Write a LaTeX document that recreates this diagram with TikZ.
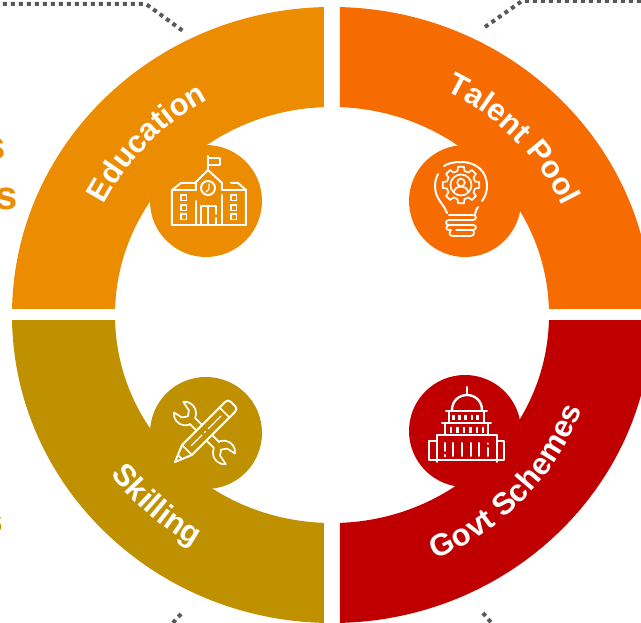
\documentclass[tikz,border=0pt]{standalone}
\usepackage{fontspec}
\setmainfont{Liberation Sans}
\usetikzlibrary{decorations.text}
\definecolor{eduC}{HTML}{EC8C00}
\definecolor{talC}{HTML}{F76C00}
\definecolor{skiC}{HTML}{BF9000}
\definecolor{govC}{HTML}{C00000}
\definecolor{dotC}{HTML}{595959}
\newcommand{\lblfont}{\fontsize{31}{37}\selectfont\bfseries}
\tikzset{
  px/.style={shift={(-332,315)},yscale=-1},
  badge/.style={circle,minimum size=112pt,inner sep=0pt,draw=none},
  dotline/.style={draw=dotC,line width=4pt,dash pattern=on 4pt off 4pt},
  icon/.style={draw=white,line width=2pt,line cap=round,line join=round},
  thinicon/.style={draw=white,line width=1.7pt,line cap=round,line join=round},
  stray/.style={font=\bfseries,inner sep=0pt,anchor=base east},
  ringlabel/.style={decorate,decoration={text along path,text align=center,text color=white,text={|\lblfont|#1}}}
}
\begin{document}
\begin{tikzpicture}[x=1pt,y=1pt]
\useasboundingbox (-332,-308) rectangle (309,315);
\clip (-332,-308) rectangle (309,315);
\fill[white] (-332,-308) rectangle (309,315);
\begin{scope}[px]
  % dotted leaders
  \coordinate (tl0) at (3,4); \coordinate (tl1) at (146,4); \coordinate (tl2) at (183,31);
  \coordinate (tr0) at (485,27); \coordinate (tr1) at (522,1); \coordinate (tr2) at (645,1);
  \coordinate (bl0) at (181,614); \coordinate (bl1) at (170,626);
  \coordinate (br0) at (483,613); \coordinate (br1) at (494,626);
  \draw[dotline] (tl0) -- (tl1) -- (tl2);
  \draw[dotline] (tr0) -- (tr1) -- (tr2);
  \draw[dotline] (bl0) -- (bl1);
  \draw[dotline] (br0) -- (br1);
  % ring quadrants
  \begin{scope}\clip (0,0) rectangle (324,309);
    \fill[eduC,even odd rule] (332,315) ellipse [x radius=320,y radius=308] (332,315) ellipse [x radius=217,y radius=208];
  \end{scope}
  \begin{scope}\clip (340,0) rectangle (660,309);
    \fill[talC,even odd rule] (332,315) ellipse [x radius=320,y radius=308] (332,315) ellipse [x radius=217,y radius=208];
  \end{scope}
  \begin{scope}\clip (0,321) rectangle (324,630);
    \fill[skiC,even odd rule] (332,315) ellipse [x radius=320,y radius=308] (332,315) ellipse [x radius=217,y radius=208];
  \end{scope}
  \begin{scope}\clip (340,321) rectangle (660,630);
    \fill[govC,even odd rule] (332,315) ellipse [x radius=320,y radius=308] (332,315) ellipse [x radius=217,y radius=208];
  \end{scope}
  % badges
  \node[badge,fill=eduC] (edu) at (206,201) {};
  \node[badge,fill=talC] (tal) at (465,201) {};
  \node[badge,fill=skiC] (ski) at (206,433) {};
  \node[badge,fill=govC] (gov) at (465,431) {};
  % cut-off texts at left margin
  \node[stray,text=eduC,font=\fontsize{40}{44}\selectfont\bfseries] (s1) at (5.5,160) {s};
  \node[stray,text=eduC,font=\fontsize{40}{44}\selectfont\bfseries] (s2) at (17.5,210) {s};
  \node[stray,text=skiC,font=\fontsize{34}{40}\selectfont\bfseries] (s3) at (3,533) {s};
  % school icon
  \draw[icon] (172,225) -- (246,225);
  \draw[icon] (172,225) -- (172,190) -- (181,183) -- (196,183);
  \draw[icon] (246,225) -- (246,190) -- (238,183) -- (231,183);
  \draw[icon] (172,190) -- (196,190);
  \draw[icon] (222,190) -- (246,190);
  \draw[icon] (196,190) -- (196,182) -- (208,170) -- (222,183) -- (222,190);
  \draw[icon] (196,201) -- (196,225);
  \draw[icon] (222,195) -- (222,225);
  \draw[icon] (208,170) -- (208,156);
  \draw[icon] (208,158) -- (220,158) -- (220,165) -- (208,165);
  \draw[icon] (208,188) circle (7);
  \draw[thinicon,line width=1.3pt] (209,184) -- (209,189) -- (206,192);
  \draw[icon] (201,225) -- (201,206) -- (216,206) -- (216,214);
  \draw[icon] (216,218) -- (216,225);
  \draw[icon] (208,206) -- (208,225);
  \foreach \wx in {181,231}{
    \foreach \wy in {195,205,214}{
      \draw[thinicon] (\wx,\wy) rectangle ++(5.5,5.5);
    }
  }
  % bulb icon
  \draw[icon] (444,166) .. controls (447,164) and (452,162) .. (461,162) .. controls (477,162) and (487,172) .. (487,186) .. controls (487,192) and (485,197) .. (482,201);
  \draw[icon] (438,174) .. controls (436,178) and (435,182) .. (435,186) .. controls (435,199) and (444,204) .. (447,213);
  \draw[icon] (478,207) .. controls (477,209) and (475,211) .. (475,214);
  \draw[thinicon] (449,215) -- (473,215) .. controls (477,215) and (477,220) .. (473,220) -- (449,220) .. controls (445,220) and (445,225) .. (449,225) -- (473,225) .. controls (477,225) and (477,230) .. (473,230) -- (456,230);
  \draw[thinicon] (451,225) .. controls (445,225) and (445,230) .. (449,230) -- (451,230);
  \draw[thinicon] (451,230) .. controls (448,234) and (450,236) .. (453,236) -- (470,236) .. controls (474,236) and (475,233) .. (473,230);
  \begin{scope}[shift={(461,185)}]
    \foreach \a in {0,45,...,315}{
      \draw[thinicon] (\a-14:14.5) -- (\a-9:18.5) -- (\a+9:18.5) -- (\a+14:14.5) arc[start angle=\a+14,end angle=\a+31,radius=14.5];
    }
    \draw[thinicon] (0,0) circle (10.5);
    \draw[thinicon] (0,-2.5) circle (3.8);
    \draw[thinicon] (-7,6.5) .. controls (-6,3) and (-3,1.5) .. (0,1.5) .. controls (3,1.5) and (6,3) .. (7,6.5);
  \end{scope}
  % tools icon
  \begin{scope}[shift={(204.5,433)},rotate=45]
    \foreach \sg in {1,-1}{
      \begin{scope}[xscale=\sg,yscale=\sg]
        \draw[thinicon] (8,4) -- (17,4) -- (17.4,4.4) arc[start angle=157,end angle=38,radius=11.5] -- (27,5) -- (23.5,0) -- (27,-5) -- (36.1,-7.1) arc[start angle=-38,end angle=-157,radius=11.5] -- (17,-4) -- (8,-4);
      \end{scope}
    }
  \end{scope}
  \begin{scope}[shift={(175,462)},rotate=-45]
    \draw[icon] (0,0) -- (17,7) -- (77,7) .. controls (81,7) and (82,5) .. (82,3) -- (82,-3) .. controls (82,-5) and (81,-7) .. (77,-7) -- (17,-7) -- cycle;
    \draw[thinicon] (17,7) -- (17,-7);
    \draw[thinicon] (7,3) -- (7,-3);
    \draw[thinicon] (70,7) -- (70,-7);
    \draw[thinicon,line width=1.3pt] (23,0) -- (38,0);
    \draw[thinicon,line width=1.3pt] (42,0) -- (43,0);
    \draw[thinicon,line width=1.3pt] (47,0) -- (65,0);
  \end{scope}
  % capitol icon
  \draw[icon] (467,387) -- (467,395);
  \draw[icon,line width=2.4pt] (452,410) .. controls (452,401) and (459,395) .. (467,395) .. controls (475,395) and (482,401) .. (482,410);
  \draw[icon] (446,411) -- (487,411);
  \draw[icon] (449,411) -- (449,422);
  \draw[icon] (484,411) -- (484,422);
  \draw[icon] (442,423) -- (491,423);
  \draw[icon] (445,423) -- (445,435);
  \draw[icon] (488,423) -- (488,435);
  \foreach \wx in {453.5,459.5,465.5,472,477.5}{
    \draw[icon,line width=2.6pt,line cap=butt] (\wx,415) -- (\wx,420);
  }
  \foreach \wx in {451,457.5,464,470.5,477,483}{
    \draw[icon,line width=2.6pt,line cap=butt] (\wx,427) -- (\wx,433);
  }
  \draw[icon] (437,462) -- (437,435) -- (497,435) -- (497,462);
  \draw[icon] (437,441) -- (429,441) -- (429,460) -- (504,460) -- (504,441) -- (497,441);
  \foreach \wx in {453,462,471,479}{
    \draw[icon] (\wx,443) -- (\wx,456);
  }
  \draw[icon] (445,443) -- (445,451);
  \draw[icon] (445,455) -- (445,456.5);
  \draw[icon] (488,443.5) -- (488,444);
  \draw[icon] (488,448) -- (488,456);
\end{scope}
% curved labels around the ring centre
\coordinate (eduStart) at ({255*cos(176)},{246*sin(176)});
\coordinate (talStart) at ({256*cos(85)},{250*sin(85)});
\coordinate (skiStart) at ({276*cos(188)},{267*sin(188)});
\coordinate (govStart) at ({268*cos(-85)},{265*sin(-85)});
\path[ringlabel={Education}] (eduStart) arc[start angle=176,end angle=97,x radius=255,y radius=246];
\path[ringlabel={Talent Pool}] (talStart) arc[start angle=85,end angle=4,x radius=256,y radius=250];
\path[ringlabel={Skilling}] (skiStart) arc[start angle=188,end angle=268,x radius=276,y radius=267];
\path[ringlabel={Govt Schemes}] (govStart) arc[start angle=-85,end angle=-3,x radius=268,y radius=265];
\end{tikzpicture}
\end{document}
